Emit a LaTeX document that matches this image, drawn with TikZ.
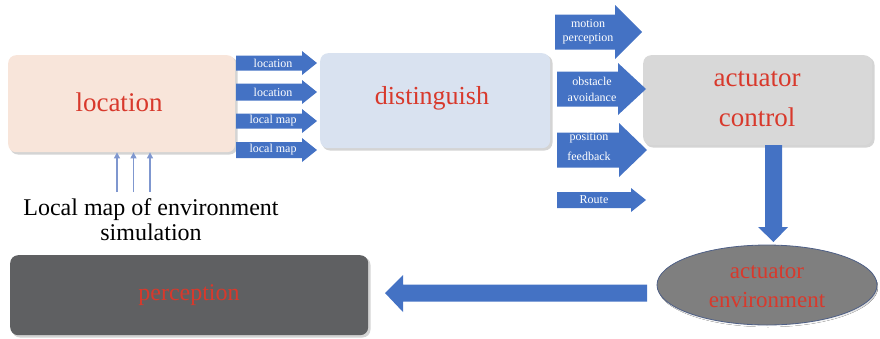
\documentclass[tikz,border=0pt]{standalone}
\usepackage{fontspec}
\setmainfont{Liberation Serif}
\usetikzlibrary{arrows.meta,shapes.geometric}

\definecolor{arrowblue}{HTML}{4472C4}
\definecolor{thinblue}{HTML}{7F97CF}
\definecolor{labelred}{HTML}{D8392C}
\definecolor{peach}{HTML}{F8E5DA}
\definecolor{paleblue}{HTML}{D9E2F0}
\definecolor{lightgrey}{HTML}{D8D8D8}
\definecolor{darkgrey}{HTML}{5F6062}
\definecolor{midgrey}{HTML}{7F7F7F}
\definecolor{ellipseedge}{HTML}{4E5F86}
\definecolor{shade}{HTML}{D4D4D4}

% block arrow pointing right: x-start, x-tip, y-centre, half body, half head, head length
\newcommand\blockright[6]{%
  \fill[arrowblue] (#1,#3-#4) -- (#2-#6,#3-#4) -- (#2-#6,#3-#5) -- (#2,#3)
    -- (#2-#6,#3+#5) -- (#2-#6,#3+#4) -- (#1,#3+#4) -- cycle;}

\tikzset{
  procbox/.style={rounded corners=8pt, draw=none},
  shadowbox/.style={rounded corners=8pt, draw=none, fill=shade},
  bigred/.style={text=labelred, align=center},
  tag/.style={text=white, font=\fontsize{12}{14}\selectfont, align=center, inner sep=0pt},
  feed/.style={draw=thinblue, line width=1.3pt, -{Triangle[length=6pt,width=6pt]}},
}

\begin{document}
\begin{tikzpicture}[x=1pt,y=-1pt]
\useasboundingbox (0,0) rectangle (880,338);

% soft shadows under the blocks
\fill[shadowbox] (10,57) rectangle (237.5,154.5);
\fill[shadowbox] (322,55) rectangle (552.5,150.5);
\fill[shadowbox] (645,57) rectangle (874.5,147.5);
\fill[shadowbox] (12,257) rectangle (370.5,337.5);
\fill[shade] (768,287) ellipse (110pt and 40pt);

% main blocks
\node[procbox, fill=peach, minimum width=227pt, minimum height=97pt, anchor=north west]
  (loc) at (8,55) {};
\node[bigred, font=\fontsize{27}{30}\selectfont] (loctext) at (119,102) {location};

\node[procbox, fill=paleblue, minimum width=230pt, minimum height=95pt, anchor=north west]
  (dist) at (320,53) {};
\node[bigred, font=\fontsize{26}{30}\selectfont] (disttext) at (432,98) {distinguish};

\node[procbox, fill=lightgrey, minimum width=229pt, minimum height=90pt, anchor=north west]
  (act) at (643,55) {};
\node[bigred, font=\fontsize{27}{40}\selectfont] (acttext) at (757,99) {actuator\\control};

\node[procbox, fill=darkgrey, minimum width=358pt, minimum height=80pt, anchor=north west]
  (perc) at (10,255) {};
\node[bigred, font=\fontsize{24}{28}\selectfont] (perctext) at (189,295) {perception};

\node[ellipse, fill=midgrey, draw=ellipseedge, line width=0.8pt,
  minimum width=220pt, minimum height=80pt] (env) at (767,285) {};
\node[bigred, font=\fontsize{23}{29}\selectfont] (envtext) at (767,287) {actuator\\environment};

% arrows from location to distinguish
\blockright{236}{317}{63}{7.5}{12}{15}
\blockright{236}{317}{92}{8.5}{12}{15}
\blockright{236}{317}{121}{7.5}{12}{15}
\blockright{236}{317}{150}{8}{12}{15}
\node[tag] (t1) at (273,63) {location};
\node[tag] (t2) at (273,92) {location};
\node[tag] (t3) at (273,121) {local map};
\node[tag] (t4) at (273,150) {local map};

% arrows into actuator control
\blockright{555}{642}{32}{17.5}{27}{27}
\blockright{557}{646}{89}{17.5}{26}{28}
\blockright{557}{647}{150}{17.5}{27}{28}
\blockright{557}{646}{200}{8}{12}{15}
\node[tag, font=\fontsize{12}{14}\selectfont] (t5) at (588,32) {motion\\perception};
\node[tag, font=\fontsize{12}{16}\selectfont] (t6) at (592,89) {obstacle\\avoidance};
\node[tag, font=\fontsize{12}{20}\selectfont] (t7) at (589,147) {position\\feedback};
\node[tag] (t8) at (594,200) {Route};

% actuator control down to the environment
\coordinate (downtop) at (773.5,145);
\coordinate (downtip) at (773.5,242);
\fill[arrowblue] (765,145) -- (782,145) -- (782,227) -- (788,227) -- (downtip)
  -- (758,227) -- (765,227) -- cycle;

% environment back to perception
\coordinate (backtip) at (385,293);
\fill[arrowblue] (647,284.5) -- (403,284.5) -- (403,275) -- (backtip)
  -- (403,312) -- (403,301.5) -- (647,301.5) -- cycle;

% simulated local map feeding location
\coordinate (f1) at (117,192);
\coordinate (f2) at (133.5,192);
\coordinate (f3) at (150,192);
\draw[feed] (f1) -- (f1 |- loc.south);
\draw[feed] (f2) -- (f2 |- loc.south);
\draw[feed] (f3) -- (f3 |- loc.south);
\node[font=\fontsize{24}{25}\selectfont, align=center, text=black] (sim) at (151,220)
  {Local map of environment\\simulation};
\end{tikzpicture}
\end{document}
